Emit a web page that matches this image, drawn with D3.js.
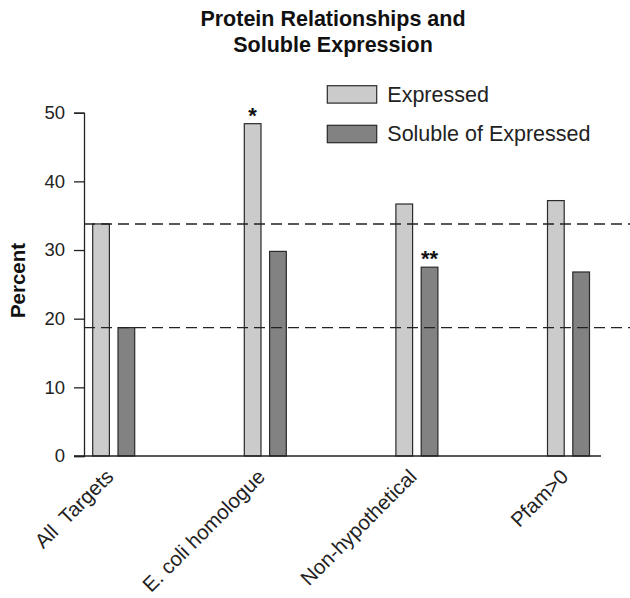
<!DOCTYPE html>
<html><head><meta charset="utf-8">
<script src="https://cdn.jsdelivr.net/npm/d3@7"></script>
<style>
html,body{margin:0;padding:0;background:#fff;}
svg{display:block;font-family:"Liberation Sans",Arial,Helvetica,sans-serif;}
</style></head>
<body>
<script>
const categories = ["All  Targets", "E. coli homologue", "Non-hypothetical", "Pfam>0"];
const seriesNames = ["Expressed", "Soluble of Expressed"];
const expressed = [33.8, 48.4, 36.7, 37.2];
const soluble = [18.7, 29.8, 27.5, 26.8];
const yTicks = [0, 10, 20, 30, 40, 50];
const refLines = [33.8, 18.7];
const markers = [{cat: "E. coli homologue", series: "Expressed", text: "*"},
                 {cat: "Non-hypothetical", series: "Soluble of Expressed", text: "**"}];
const titleLines = ["Protein Relationships and", "Soluble Expression"];
const colors = {"Expressed": "#cbcbcb", "Soluble of Expressed": "#828282"};

const W = 630, H = 598;
const svg = d3.select("body").append("svg").attr("width", W).attr("height", H);

const y = d3.scaleLinear().domain([0, 50]).range([456, 112.7]);
const x = d3.scalePoint().domain(categories).range([113.7, 568.5]);
const xs = d3.scaleBand().domain(seriesNames).range([-21, 21]).paddingInner(0.34);

const data = categories.map((c, i) => ({cat: c, vals: [
  {series: "Expressed", v: expressed[i]},
  {series: "Soluble of Expressed", v: soluble[i]}]}));

// Title
svg.append("g").selectAll("text").data(titleLines).join("text")
  .attr("x", 333).attr("y", (d, i) => 26 + i * 26)
  .attr("text-anchor", "middle").attr("font-weight", "bold").attr("font-size", 21.5)
  .attr("fill", "#111").text(d => d);

// Bars
const g = svg.append("g").selectAll("g").data(data).join("g")
  .attr("transform", d => `translate(${x(d.cat)},0)`);
g.selectAll("rect").data(d => d.vals).join("rect")
  .attr("x", d => xs(d.series)).attr("width", xs.bandwidth())
  .attr("y", d => y(d.v)).attr("height", d => y(0) - y(d.v))
  .attr("fill", d => colors[d.series]).attr("stroke", "#2a2a2a").attr("stroke-width", 1.2);

// Reference dashed lines
svg.append("g").selectAll("line").data(refLines).join("line")
  .attr("x1", 84).attr("x2", 630).attr("y1", d => y(d)).attr("y2", d => y(d))
  .attr("stroke", "#222").attr("stroke-width", 1.4).attr("stroke-dasharray", "11,6");

// Y axis
const yAxis = d3.axisLeft(y).tickValues(yTicks).tickSize(10).tickPadding(9);
const ya = svg.append("g").attr("transform", "translate(84,0)").call(yAxis);
ya.select(".domain").attr("stroke", "#222").attr("stroke-width", 1.3);
ya.selectAll(".tick line").attr("stroke", "#222").attr("stroke-width", 1.3);
ya.selectAll(".tick text").attr("font-size", 18.5).attr("fill", "#222")
  .attr("font-family", "Liberation Sans, Arial, sans-serif");

// X baseline
svg.append("line").attr("x1", 74).attr("x2", 601).attr("y1", y(0)).attr("y2", y(0))
  .attr("stroke", "#222").attr("stroke-width", 1.3);

// X labels
svg.append("g").selectAll("text").data(categories).join("text")
  .attr("transform", d => `translate(${x(d) + 1},${y(0) + 22}) rotate(-45)`)
  .attr("text-anchor", "end").attr("font-size", 20.5).attr("fill", "#222")
  .style("white-space", "pre").text(d => d);

// Y label
svg.append("text").attr("transform", "translate(25,280.5) rotate(-90)")
  .attr("text-anchor", "middle").attr("font-weight", "bold").attr("font-size", 20.5)
  .attr("fill", "#111").text("Percent");

// Markers
svg.append("g").selectAll("text").data(markers).join("text")
  .attr("x", d => x(d.cat) + xs(d.series) + xs.bandwidth() / 2)
  .attr("y", d => {
    const i = categories.indexOf(d.cat);
    const v = d.series === "Expressed" ? expressed[i] : soluble[i];
    return y(v) - 1;
  })
  .attr("text-anchor", "middle").attr("font-weight", "bold").attr("font-size", 22)
  .attr("fill", "#111").text(d => d.text);

// Legend
const lg = svg.append("g").selectAll("g").data(seriesNames).join("g")
  .attr("transform", (d, i) => `translate(327.3,${85.7 + i * 39.6})`);
lg.append("rect").attr("width", 49.4).attr("height", 17.4)
  .attr("fill", d => colors[d]).attr("stroke", "#2a2a2a").attr("stroke-width", 1.2);
lg.append("text").attr("x", 60).attr("y", 16).attr("font-size", 21.5).attr("fill", "#222").text(d => d);
</script>
</body></html>
